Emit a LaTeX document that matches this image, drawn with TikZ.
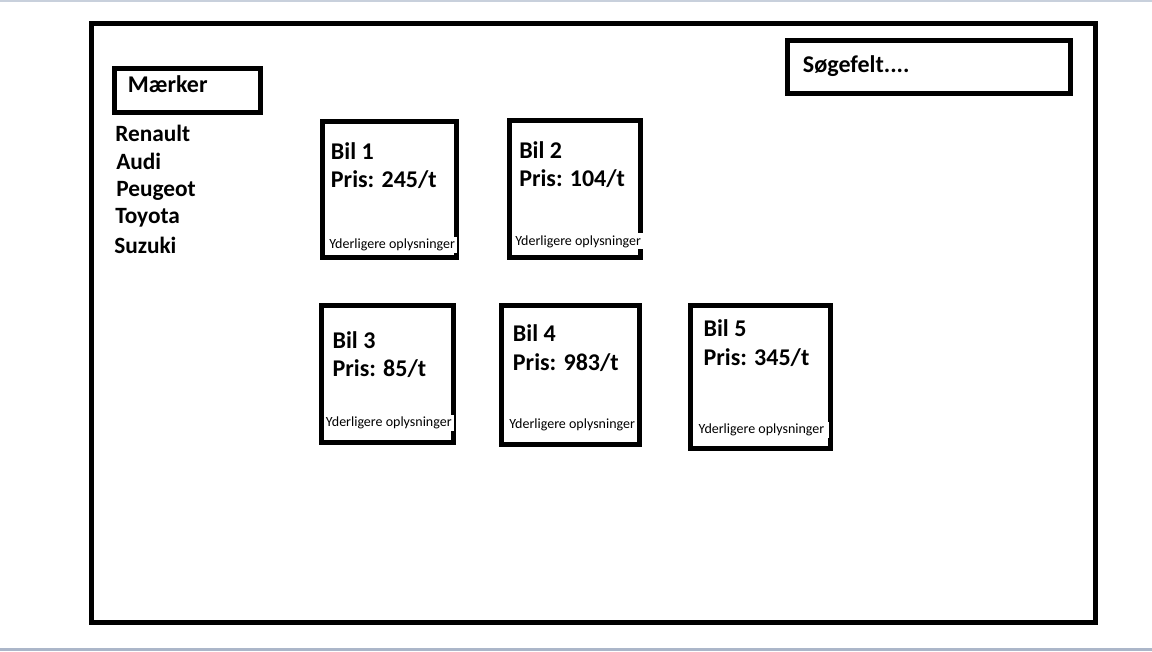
\documentclass[tikz,border=0pt]{standalone}
\usepackage{fontspec}
\setmainfont{Carlito}
\begin{document}
\begin{tikzpicture}[x=0.75pt,y=-0.75pt,
  frame/.style={draw=black,line width=3.75pt,line join=miter},
  big/.style={inner sep=0pt,anchor=base west,font=\fontsize{18}{20}\selectfont\bfseries},
  brand/.style={inner sep=0pt,anchor=base west,font=\fontsize{17.5}{20}\selectfont\bfseries},
  more/.style={anchor=base west,fill=white,inner xsep=1.5pt,inner ysep=1.5pt,xshift=-1.5pt,font=\fontsize{10.5}{12}\selectfont}]
\useasboundingbox[fill=white] (0,0) rectangle (1152,651);
% window chrome strips
\fill[fill={rgb,255:red,200;green,208;blue,220}] (0,0) rectangle (1152,1.5);
\fill[fill={rgb,255:red,171;green,182;blue,201}] (0,647.5) rectangle (1152,651);
% page frame
\draw[frame] (91.5,23.5) rectangle (1095.5,622.5);
% brand filter
\draw[frame] (114.5,68.5) rectangle (260.5,112.5);
\node[big] (maerker) at (127.7,92) {Mærker};
\node[brand] (renault) at (115,141.7) {Renault};
\node[brand] (audi) at (116,169.3) {Audi};
\node[brand] (peugeot) at (116,196.7) {Peugeot};
\node[brand] (toyota) at (115,223) {Toyota};
\node[brand] (suzuki) at (114,253.3) {Suzuki};
% search field
\draw[frame] (787.5,40.8) rectangle (1070.8,93.2);
\node[big] (search) at (802.7,72.7) {Søgefelt....};
% car cards
\draw[frame] (322.5,121) rectangle (456.5,257.5);
\node[big] (b1a) at (330.7,159.3) {Bil 1};
\node[big] (b1b) at (330.7,187.3) {Pris: 245/t};
\node[more] (b1c) at (329,248.7) {Yderligere oplysninger};

\draw[frame] (509,120) rectangle (640.5,257.5);
\node[big] (b2a) at (519,158.3) {Bil 2};
\node[big] (b2b) at (519,186) {Pris: 104/t};
\node[more] (b2c) at (515,245) {Yderligere oplysninger};

\draw[frame] (321.5,305.8) rectangle (453,442.5);
\node[big] (b3a) at (332.3,348.3) {Bil 3};
\node[big] (b3b) at (332.3,376.7) {Pris: 85/t};
\node[more] (b3c) at (325.7,426.7) {Yderligere oplysninger};

\draw[frame] (501.5,305.8) rectangle (639,444.2);
\node[big] (b4a) at (512.7,341) {Bil 4};
\node[big] (b4b) at (512.7,370) {Pris: 983/t};
\node[more] (b4c) at (509,428.3) {Yderligere oplysninger};

\draw[frame] (690,305) rectangle (830.8,448);
\node[big] (b5a) at (703.3,336.7) {Bil 5};
\node[big] (b5b) at (703.3,365) {Pris: 345/t};
\node[more,inner xsep=3.5pt,xshift=-2pt] (b5c) at (698.3,433.3) {Yderligere oplysninger};
\end{tikzpicture}
\end{document}
